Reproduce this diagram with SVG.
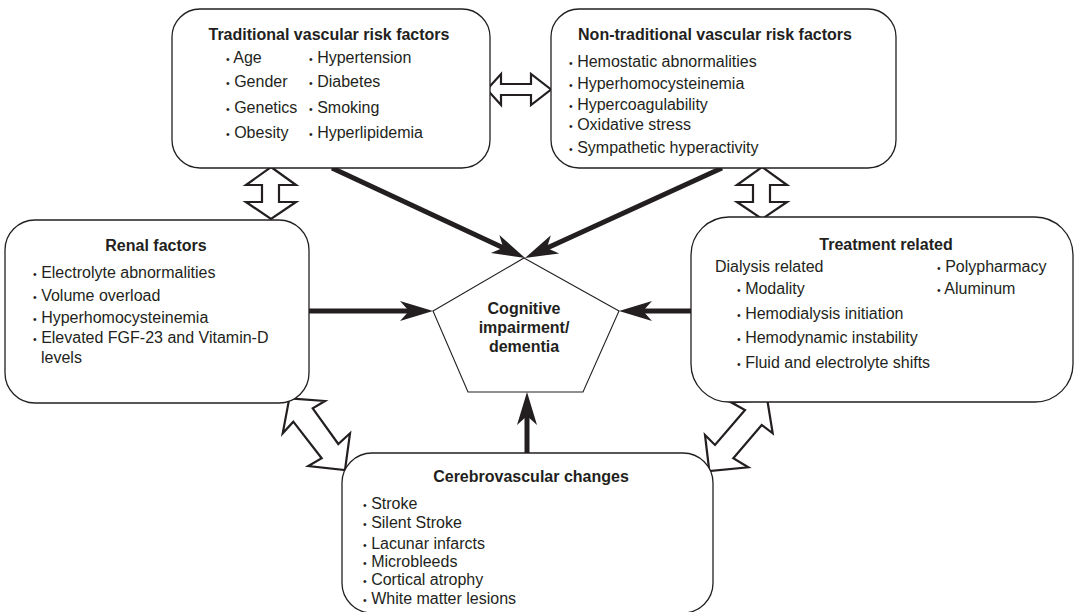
<svg xmlns="http://www.w3.org/2000/svg" width="1075" height="612" viewBox="0 0 1075 612">
  <style>
    .box { fill: #ffffff; stroke: #231f20; stroke-width: 1.3; }
    .pent { fill: #ffffff; stroke: #231f20; stroke-width: 1.1; }
    text { font-family: "Liberation Sans", Arial, Helvetica, sans-serif; fill: #231f20; font-size: 16px; }
    .title { font-weight: bold; text-anchor: middle; }
    .b { font-size: 10.5px; }
    .flow { stroke: #231f20; stroke-width: 5; fill: none; marker-end: url(#head); }
    .dbl { fill: #ffffff; stroke: #231f20; stroke-width: 2.2; stroke-linejoin: miter; }
  </style>
  <defs>
    <marker id="head" markerUnits="userSpaceOnUse" viewBox="-15 -12 40 24" markerWidth="40" markerHeight="24" refX="0" refY="0" orient="auto">
      <path d="M20,0 L-13,-10 L-4,0 L-13,10 Z" fill="#231f20"/>
    </marker>
  </defs>

  <rect width="1075" height="612" fill="#ffffff"/>

  <!-- two-way block arrows between the factor groups -->
  <g id="links">
    <path class="dbl" d="M487,89.5 L501,74 L501,84 L531,84 L531,74 L551,89.5 L531,105 L531,95 L501,95 L501,105 Z"/>
    <path class="dbl" d="M271,167 L296,185 L279,185 L279,202 L296,202 L271,219 L246,202 L262,202 L262,185 L246,185 Z"/>
    <path class="dbl" d="M762,167 L787,185 L770,185 L770,202 L787,202 L762,219 L737,202 L753,202 L753,185 L737,185 Z"/>
    <path class="dbl" d="M289.3,398.3 L325,401 L312.7,408.3 L338.3,444 L350,433.3 L345,470 L308.3,466 L321.7,458.3 L293.3,421.7 L282.7,433.3 Z"/>
    <path class="dbl" d="M767.3,400 L731,402.3 L745,410 L715,445 L705,435 L709.3,471 L748.3,467.3 L733.3,458.3 L761.7,425 L772.7,433.3 Z"/>
  </g>

  <!-- one-way arrows into the central outcome -->
  <g id="connectors">
    <line class="flow" x1="332" y1="168" x2="506.9" y2="249.5"/>
    <line class="flow" x1="722" y1="168" x2="543.2" y2="249.7"/>
    <line class="flow" x1="309" y1="311" x2="413" y2="311"/>
    <line class="flow" x1="691" y1="311" x2="639" y2="311"/>
    <line class="flow" x1="527" y1="453" x2="527" y2="412"/>
  </g>

  <g id="traditional">
    <rect class="box" x="172" y="9" width="318" height="159" rx="28" ry="28"/>
    <text class="title" x="329" y="40">Traditional vascular risk factors</text>
    <text x="226" y="63"><tspan class="b">•</tspan> Age</text>
    <text x="226" y="87"><tspan class="b">•</tspan> Gender</text>
    <text x="226" y="113"><tspan class="b">•</tspan> Genetics</text>
    <text x="226" y="138"><tspan class="b">•</tspan> Obesity</text>
    <text x="309" y="63"><tspan class="b">•</tspan> Hypertension</text>
    <text x="309" y="87"><tspan class="b">•</tspan> Diabetes</text>
    <text x="309" y="113"><tspan class="b">•</tspan> Smoking</text>
    <text x="309" y="138"><tspan class="b">•</tspan> Hyperlipidemia</text>
  </g>

  <g id="non-traditional">
    <rect class="box" x="551" y="9" width="345" height="159" rx="28" ry="28"/>
    <text class="title" x="715" y="40">Non-traditional vascular risk factors</text>
    <text x="569" y="67"><tspan class="b">•</tspan> Hemostatic abnormalities</text>
    <text x="569" y="89"><tspan class="b">•</tspan> Hyperhomocysteinemia</text>
    <text x="569" y="110"><tspan class="b">•</tspan> Hypercoagulability</text>
    <text x="569" y="130"><tspan class="b">•</tspan> Oxidative stress</text>
    <text x="569" y="153"><tspan class="b">•</tspan> Sympathetic hyperactivity</text>
  </g>

  <g id="renal">
    <rect class="box" x="5" y="220" width="304" height="183" rx="30" ry="30"/>
    <text class="title" x="156" y="251">Renal factors</text>
    <text x="33" y="278"><tspan class="b">•</tspan> Electrolyte abnormalities</text>
    <text x="33" y="301"><tspan class="b">•</tspan> Volume overload</text>
    <text x="33" y="323"><tspan class="b">•</tspan> Hyperhomocysteinemia</text>
    <text x="33" y="343"><tspan class="b">•</tspan> Elevated FGF-23 and Vitamin-D</text>
    <text x="41" y="363">levels</text>
  </g>

  <g id="treatment">
    <rect class="box" x="691" y="217" width="382" height="185" rx="38" ry="38"/>
    <text class="title" x="886" y="250">Treatment related</text>
    <text x="715" y="272">Dialysis related</text>
    <text x="737" y="294"><tspan class="b">•</tspan> Modality</text>
    <text x="737" y="319"><tspan class="b">•</tspan> Hemodialysis initiation</text>
    <text x="737" y="343"><tspan class="b">•</tspan> Hemodynamic instability</text>
    <text x="737" y="368"><tspan class="b">•</tspan> Fluid and electrolyte shifts</text>
    <text x="937" y="272"><tspan class="b">•</tspan> Polypharmacy</text>
    <text x="937" y="294"><tspan class="b">•</tspan> Aluminum</text>
  </g>

  <g id="cerebrovascular">
    <rect class="box" x="342" y="453" width="371" height="160" rx="30" ry="30"/>
    <text class="title" x="531" y="482">Cerebrovascular changes</text>
    <text x="363" y="509"><tspan class="b">•</tspan> Stroke</text>
    <text x="363" y="528"><tspan class="b">•</tspan> Silent Stroke</text>
    <text x="363" y="549"><tspan class="b">•</tspan> Lacunar infarcts</text>
    <text x="363" y="567"><tspan class="b">•</tspan> Microbleeds</text>
    <text x="363" y="585"><tspan class="b">•</tspan> Cortical atrophy</text>
    <text x="363" y="604"><tspan class="b">•</tspan> White matter lesions</text>
  </g>

  <g id="cognitive">
    <polygon class="pent" points="524,258 619,311 583,392 468,392 433,311"/>
    <text class="title" x="524" y="314">Cognitive</text>
    <text class="title" x="524" y="333">impairment/</text>
    <text class="title" x="524" y="352">dementia</text>
  </g>
</svg>
